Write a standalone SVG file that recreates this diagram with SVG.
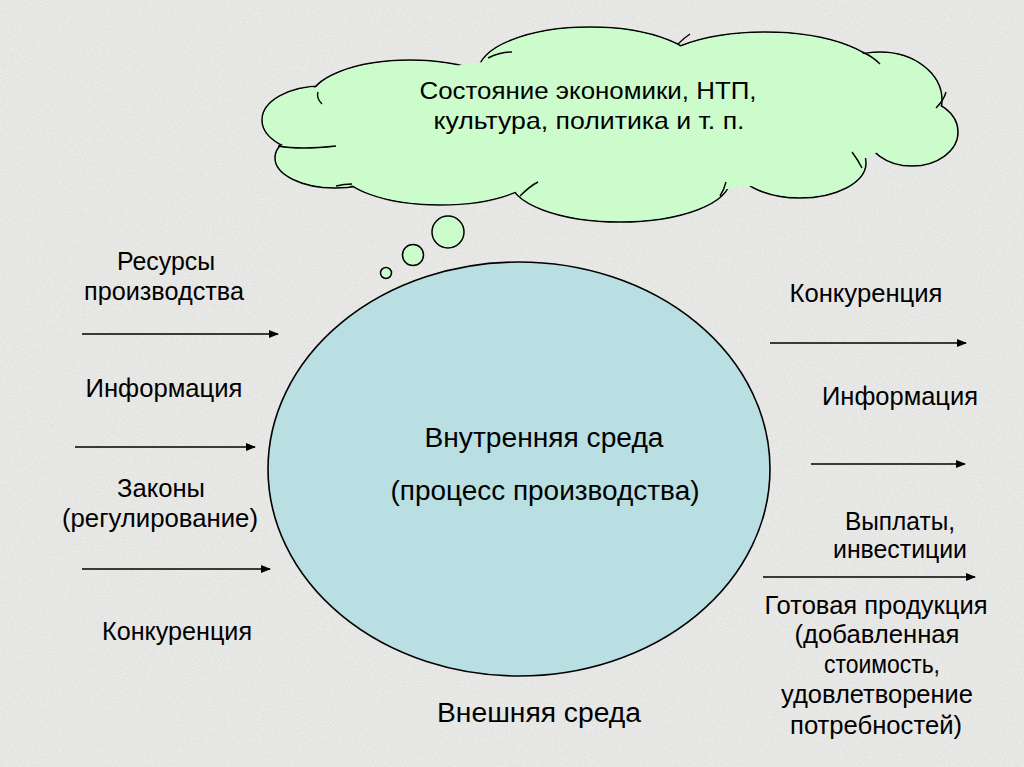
<svg xmlns="http://www.w3.org/2000/svg" width="1024" height="767" viewBox="0 0 1024 767">
<defs>
<marker id="ah" viewBox="0 0 10 8" refX="9" refY="4" markerWidth="10" markerHeight="8" markerUnits="userSpaceOnUse" orient="auto">
<path d="M0,0 L10,4 L0,8 Z" fill="#000"/>
</marker>
<filter id="noise" x="0" y="0" width="100%" height="100%">
<feTurbulence type="fractalNoise" baseFrequency="0.9" numOctaves="2" seed="3" result="t"/>
<feColorMatrix type="matrix" values="0 0 0 0 0.55  0 0 0 0 0.55  0 0 0 0 0.55  0 0 0 -2.2 1.25" in="t"/>
</filter>
</defs>
<style>
text{font-family:"Liberation Sans",Arial,sans-serif;fill:#000}
.s{font-size:25px}
.c{font-size:27px}
.cl{font-size:24px}
.conn line{stroke:#000;stroke-width:1.6;marker-end:url(#ah)}
.cloudo ellipse{fill:#ccfccc;stroke:#000;stroke-width:1.5}
.cloudf ellipse{fill:#ccfccc;stroke:none}
.inarc{fill:none;stroke:#000;stroke-width:1.4}
</style>
<rect width="1024" height="767" fill="#e9e9e7"/>
<rect width="1024" height="767" filter="url(#noise)" opacity="0.35"/>

<g id="cloud">
<g class="cloudo">
<ellipse cx="322" cy="120" rx="60" ry="34"/>
<ellipse cx="335" cy="158" rx="60" ry="30"/>
<ellipse cx="410" cy="100" rx="100" ry="40"/>
<ellipse cx="590" cy="72" rx="112" ry="45"/>
<ellipse cx="765" cy="78" rx="118" ry="46"/>
<ellipse cx="880" cy="100" rx="62" ry="48"/>
<ellipse cx="912" cy="132" rx="46" ry="34"/>
<ellipse cx="800" cy="163" rx="66" ry="35"/>
<ellipse cx="620" cy="180" rx="110" ry="42"/>
<ellipse cx="440" cy="168" rx="100" ry="37"/>
</g>
<g class="cloudf">
<ellipse cx="322" cy="120" rx="59" ry="33"/>
<ellipse cx="335" cy="158" rx="59" ry="29"/>
<ellipse cx="410" cy="100" rx="99" ry="39"/>
<ellipse cx="590" cy="72" rx="111" ry="44"/>
<ellipse cx="765" cy="78" rx="117" ry="45"/>
<ellipse cx="880" cy="100" rx="61" ry="47"/>
<ellipse cx="912" cy="132" rx="45" ry="33"/>
<ellipse cx="800" cy="163" rx="65" ry="34"/>
<ellipse cx="620" cy="180" rx="109" ry="41"/>
<ellipse cx="440" cy="168" rx="99" ry="36"/>
<ellipse cx="610" cy="125" rx="290" ry="70"/>
</g>
<g class="inarc">
<path d="M318,92 Q316,98 322,104"/>
<path d="M278,146 Q300,150 336,146"/>
<path d="M488,58 Q500,52 512,52"/>
<path d="M678,44 Q684,38 690,34"/>
<path d="M862,52 Q872,56 880,64"/>
<path d="M936,108 Q944,100 946,92"/>
<path d="M852,152 Q858,160 862,168"/>
<path d="M720,196 Q724,190 726,182"/>
<path d="M520,196 Q530,186 538,182"/>
<path d="M336,186 Q344,184 352,184"/>
</g>
<text class="cl" x="588" y="99" text-anchor="middle" textLength="337" lengthAdjust="spacingAndGlyphs">Состояние экономики, НТП,</text>
<text class="cl" x="589" y="129" text-anchor="middle" textLength="311" lengthAdjust="spacingAndGlyphs">культура, политика и т. п.</text>
</g>

<g id="bubbles" fill="#ccfccc" stroke="#000" stroke-width="1.5">
<circle cx="448" cy="232" r="16"/>
<circle cx="413" cy="255" r="10.5"/>
<circle cx="386" cy="273" r="5.5"/>
</g>

<g id="inner">
<ellipse cx="519" cy="469" rx="251" ry="207" fill="#b9dfe3" stroke="#000" stroke-width="1.6"/>
<text class="c" x="544" y="447" text-anchor="middle" textLength="239" lengthAdjust="spacingAndGlyphs">Внутренняя среда</text>
<text class="c" x="545" y="500" text-anchor="middle" textLength="309" lengthAdjust="spacingAndGlyphs">(процесс производства)</text>
</g>

<g id="outer-label">
<text class="c" x="539" y="722" text-anchor="middle" textLength="204" lengthAdjust="spacingAndGlyphs">Внешняя среда</text>
</g>

<g id="left-labels">
<text class="s" x="166" y="270" text-anchor="middle" textLength="98" lengthAdjust="spacingAndGlyphs">Ресурсы</text>
<text class="s" x="164" y="300" text-anchor="middle" textLength="160" lengthAdjust="spacingAndGlyphs">производства</text>
<text class="s" x="164" y="397" text-anchor="middle" textLength="157" lengthAdjust="spacingAndGlyphs">Информация</text>
<text class="s" x="161" y="497" text-anchor="middle" textLength="88" lengthAdjust="spacingAndGlyphs">Законы</text>
<text class="s" x="160" y="527" text-anchor="middle" textLength="196" lengthAdjust="spacingAndGlyphs">(регулирование)</text>
<text class="s" x="177" y="640" text-anchor="middle" textLength="150" lengthAdjust="spacingAndGlyphs">Конкуренция</text>
</g>

<g id="right-labels">
<text class="s" x="866" y="302" text-anchor="middle" textLength="153" lengthAdjust="spacingAndGlyphs">Конкуренция</text>
<text class="s" x="900" y="405" text-anchor="middle" textLength="156" lengthAdjust="spacingAndGlyphs">Информация</text>
<text class="s" x="900" y="530" text-anchor="middle" textLength="110" lengthAdjust="spacingAndGlyphs">Выплаты,</text>
<text class="s" x="900" y="558" text-anchor="middle" textLength="134" lengthAdjust="spacingAndGlyphs">инвестиции</text>
<text class="s" x="876" y="614" text-anchor="middle" textLength="223" lengthAdjust="spacingAndGlyphs">Готовая продукция</text>
<text class="s" x="877" y="643" text-anchor="middle" textLength="165" lengthAdjust="spacingAndGlyphs">(добавленная</text>
<text class="s" x="882" y="673" text-anchor="middle" textLength="116" lengthAdjust="spacingAndGlyphs">стоимость,</text>
<text class="s" x="877" y="703" text-anchor="middle" textLength="192" lengthAdjust="spacingAndGlyphs">удовлетворение</text>
<text class="s" x="876" y="734" text-anchor="middle" textLength="172" lengthAdjust="spacingAndGlyphs">потребностей)</text>
</g>

<g id="connectors" class="conn">
<line x1="82" y1="334" x2="278" y2="334"/>
<line x1="75" y1="447" x2="255" y2="447"/>
<line x1="82" y1="569" x2="270" y2="569"/>
<line x1="770" y1="343" x2="966" y2="343"/>
<line x1="811" y1="464" x2="965" y2="464"/>
<line x1="763" y1="577" x2="975" y2="577"/>
</g>
</svg>
